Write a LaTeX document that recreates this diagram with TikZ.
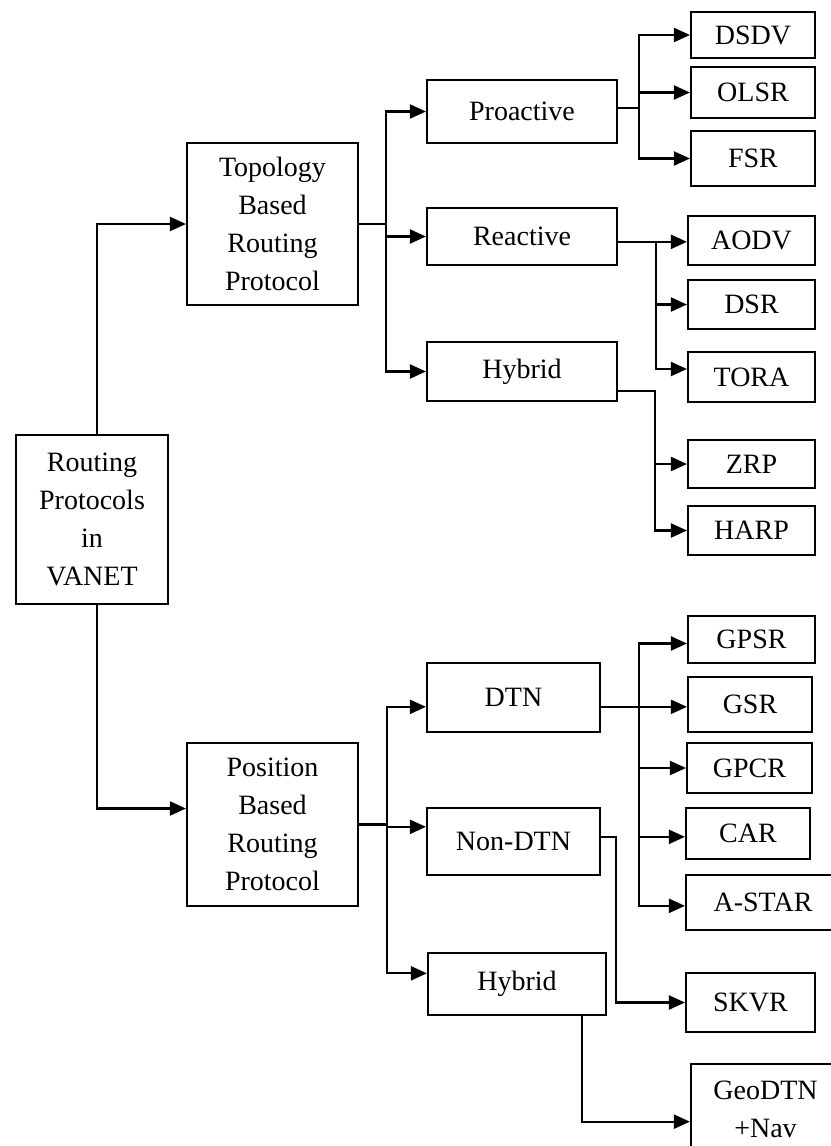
\documentclass[tikz,border=0pt]{standalone}
\usepackage{fontspec}
\setmainfont{Liberation Serif}
\usetikzlibrary{arrows.meta,calc}
% a box given by its corners (left, top, right, bottom)
\newcommand\bx[6]{%
  \node[box,minimum width={(#4-#2)*0.75pt},minimum height={(#5-#3)*0.75pt}]
    (#1) at ({(#2+#4)/2},{(#3+#5)/2}) {#6};}
\begin{document}
\begin{tikzpicture}[x=0.75pt,y=-0.75pt,
  box/.style={draw=black,line width=1.6pt,inner sep=0pt,align=center,
    font=\fontsize{21}{28.5}\selectfont},
  link/.style={draw=black,line width=1.6pt},
  arr/.style={link,-{Triangle[length=12pt,width=10.5pt]}}]
\clip (0,0) rectangle (831,1146);
\fill[white] (0,0) rectangle (831,1146);

% root and the two main families
\bx{root}{16}{435}{168}{604}{Routing\\Protocols\\in\\VANET}
\bx{topo}{187}{143}{358}{305}{Topology\\Based\\Routing\\Protocol}
\bx{pos}{187}{743}{358}{906}{Position\\Based\\Routing\\Protocol}

% topology based classes
\bx{pro}{427}{80}{617}{143}{Proactive}
\bx{rea}{427}{208}{617}{265}{Reactive}
\bx{hybA}{427}{342}{617}{401}{Hybrid}

% position based classes
\bx{dtn}{427}{663}{600}{732}{DTN}
\bx{ndtn}{427}{808}{600}{875}{Non-DTN}
\bx{hybB}{428}{953}{606}{1015}{Hybrid}

% protocols
\bx{dsdv}{691}{12}{815}{58}{DSDV}
\bx{olsr}{691}{67}{815}{118}{OLSR}
\bx{fsr}{691}{131}{815}{186}{FSR}
\bx{aodv}{688}{216}{815}{265}{AODV}
\bx{dsr}{688}{280}{815}{329}{DSR}
\bx{tora}{688}{352}{815}{402}{TORA}
\bx{zrp}{688}{440}{815}{488}{ZRP}
\bx{harp}{688}{506}{815}{555}{HARP}
\bx{gpsr}{688}{616}{815}{663}{GPSR}
\bx{gsr}{688}{677}{812}{732}{GSR}
\bx{gpcr}{687}{743}{812}{793}{GPCR}
\bx{car}{686}{808}{810}{859}{CAR}
\bx{astar}{686}{875}{840}{930}{A-STAR}
\bx{skvr}{686}{973}{815}{1032}{SKVR}
\bx{geo}{691}{1064}{840}{1154}{GeoDTN\\+Nav}

% bus lines
\coordinate (rx) at (97,0);
\coordinate (tx) at (386,0);
\coordinate (px) at (387,0);
\coordinate (prx) at (639,0);
\coordinate (rex) at (656,0);
\coordinate (hax) at (655,0);
\coordinate (dtx) at (639,0);
\coordinate (ndx) at (616,0);
\coordinate (hbx) at (582,0);

% root to families
\draw[arr] (root.north -| rx) |- (topo.west);
\draw[arr] (root.south -| rx) |- ([yshift=12pt]pos.west);

% topology to classes
\draw[link] (topo.east) -- (topo.east -| tx);
\draw[arr] (topo.east -| tx) |- (pro.west);
\draw[arr] (topo.east -| tx) |- (rea.west);
\draw[arr] (topo.east -| tx) |- (hybA.west);

% position to classes
\draw[link] (pos.east) -- (pos.east -| px);
\draw[arr] (pos.east -| px) |- ([yshift=-7pt]dtn.west);
\draw[arr] (pos.east -| px) |- ([yshift=11pt]ndtn.west);
\draw[arr] (pos.east -| px) |- ([yshift=8pt]hybB.west);

% proactive
\draw[link] ([yshift=2.5pt]pro.east) -- ([yshift=2.5pt]pro.east -| prx);
\draw[arr] ([yshift=2.5pt]pro.east -| prx) |- (dsdv.west);
\draw[arr] ([yshift=2.5pt]pro.east -| prx) |- (olsr.west);
\draw[arr] ([yshift=2.5pt]pro.east -| prx) |- (fsr.west);

% reactive
\draw[arr] ([yshift=-4pt]rea.east) -- ([yshift=-4pt]rea.east -| aodv.west);
\draw[arr] ([yshift=-4pt]rea.east -| rex) |- (dsr.west);
\draw[arr] ([yshift=-4pt]rea.east -| rex) |- ([yshift=6pt]tora.west);

% hybrid (topology)
\draw[arr] ([yshift=-14.5pt]hybA.east) -| (hax |- zrp.west) -- (zrp.west);
\draw[arr] ([yshift=-14.5pt]hybA.east -| hax) |- (harp.west);

% DTN
\draw[arr] ([yshift=-7pt]dtn.east) -- ([yshift=-7pt]dtn.east -| gsr.west);
\draw[arr] ([yshift=-7pt]dtn.east -| dtx) |- ([yshift=-3pt]gpsr.west);
\draw[arr] ([yshift=-7pt]dtn.east -| dtx) |- (gpcr.west);
\draw[arr] ([yshift=-7pt]dtn.east -| dtx) |- ([yshift=-2.5pt]car.west);
\draw[arr] ([yshift=-7pt]dtn.east -| dtx) |- ([yshift=-2.5pt]astar.west);

% non-DTN
\draw[arr] ([yshift=3.5pt]ndtn.east) -| (ndx |- skvr.west) -- (skvr.west);

% hybrid (position)
\draw[arr] (hybB.south -| hbx) |- ([yshift=-9.5pt]geo.west);
\end{tikzpicture}
\end{document}
